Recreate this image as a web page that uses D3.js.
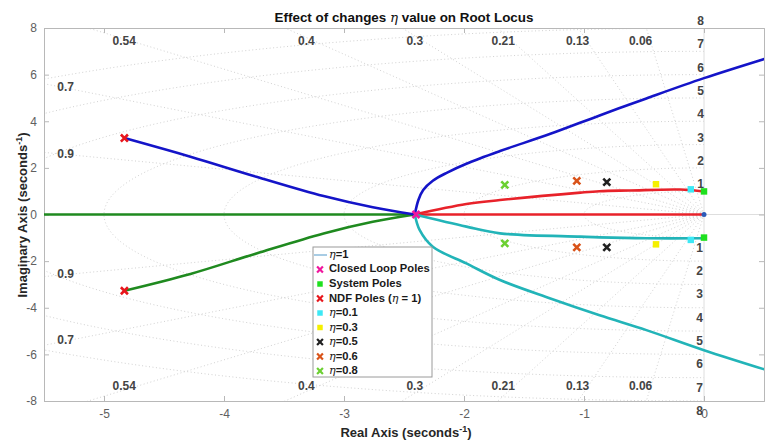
<!DOCTYPE html>
<html>
<head>
<meta charset="utf-8">
<script src="https://cdn.jsdelivr.net/npm/d3@7"></script>
<style>
  body { margin: 0; background: #fff; }
  svg { font-family: "Liberation Sans", Arial, sans-serif; }
</style>
</head>
<body>
<div id="chart"></div>
<script>
// ---- data ----
const xTicks = [-5, -4, -3, -2, -1, 0];
const yTicks = [-8, -6, -4, -2, 0, 2, 4, 6, 8];

// sgrid: damping ratios and natural frequencies
const zetaTop = [0.54, 0.4, 0.3, 0.21, 0.13, 0.06];
const zetaSide = [0.7, 0.9];
const wnValues = [1, 2, 3, 4, 5, 6, 7, 8];

// root locus branches [real, imag]
const blueNdf = [[-4.83, 3.28], [-4.28, 2.48], [-3.73, 1.62], [-3.17, 0.79], [-2.76, 0.31], [-2.41, 0]];
const greenNdf = [[-4.83, -3.27], [-4.28, -2.55], [-3.73, -1.67], [-3.17, -0.81], [-2.76, -0.31], [-2.41, 0]];
const greenReal = [[-5.5, 0], [-2.41, 0]];
const redReal = [[-2.41, 0], [0, 0]];
const blueUpper = [[-2.41, 0], [-2.38, 0.62], [-2.34, 1.05], [-2.26, 1.45], [-2.14, 1.8], [-1.98, 2.18],
  [-1.7, 2.72], [-1.28, 3.46], [-0.87, 4.25], [-0.48, 4.98], [0, 5.85], [0.52, 6.7]];
const cyanLower = [[-2.41, 0], [-2.37, -0.66], [-2.26, -1.38], [-1.98, -2.1], [-1.7, -2.81],
  [-1.28, -3.6], [-0.87, -4.32], [-0.48, -4.96], [0, -5.82], [0.52, -6.67]];
const redUpper = [[-2.41, 0], [-1.98, 0.45], [-1.7, 0.62], [-1.03, 0.94], [-0.87, 1.0],
  [-0.62, 1.03], [-0.2, 1.07], [0, 0.99]];
const cyanInner = [[-2.41, 0], [-1.98, -0.52], [-1.7, -0.81], [-1.03, -0.95], [-0.87, -0.98],
  [-0.48, -1.02], [0, -1.02]];

// pole markers
const closedLoopPoles = [[-2.4, 0]];
const systemPoles = [[0, 0.99], [0, -0.99]];
const ndfPoles = [[-4.83, 3.28], [-4.83, -3.27]];
const eta01 = [[-0.11, 1.08], [-0.11, -1.09]];
const eta03 = [[-0.4, 1.3], [-0.4, -1.28]];
const eta05 = [[-0.81, 1.39], [-0.81, -1.41]];
const eta06 = [[-1.06, 1.44], [-1.06, -1.41]];
const eta08 = [[-1.66, 1.27], [-1.66, -1.24]];
const originPoint = [[0, 0]];

const legendLabels = ["=1", "Closed Loop Poles", "System Poles", "NDF Poles", "=0.1", "=0.3", "=0.5", "=0.6", "=0.8"];

// ---- layout ----
const config = {
  width: 766, height: 445,
  margin: { top: 28, right: 2, bottom: 44, left: 44 }
};
const innerW = config.width - config.margin.left - config.margin.right;
const innerH = config.height - config.margin.top - config.margin.bottom;

const svg = d3.select("#chart").append("svg")
  .attr("width", config.width)
  .attr("height", config.height);

const chart = svg.append("g")
  .attr("transform", `translate(${config.margin.left},${config.margin.top})`);

const x = d3.scaleLinear().domain([-5.5, 0.5]).range([0, innerW]);
const y = d3.scaleLinear().domain([-8, 8]).range([innerH, 0]);

chart.append("clipPath").attr("id", "clip")
  .append("rect").attr("width", innerW).attr("height", innerH);

const gridColor = "#d2d2d2";
const grid = chart.append("g").attr("clip-path", "url(#clip)");

// natural frequency semicircles (left half plane)
const line = d3.line().x(d => x(d[0])).y(d => y(d[1]));
wnValues.forEach(wn => {
  const pts = d3.range(90, 270.5, 1).map(a => [wn * Math.cos(a * Math.PI / 180), wn * Math.sin(a * Math.PI / 180)]);
  grid.append("path").attr("d", line(pts))
    .attr("fill", "none").attr("stroke", gridColor)
    .attr("stroke-width", 1).attr("stroke-dasharray", "1,2.5");
});

// damping lines
zetaTop.concat(zetaSide).forEach(z => {
  const s = Math.sqrt(1 - z * z);
  [1, -1].forEach(sign => {
    grid.append("path").attr("d", line([[0, 0], [-20 * z, sign * 20 * s]]))
      .attr("fill", "none").attr("stroke", gridColor)
      .attr("stroke-width", 1).attr("stroke-dasharray", "1,2.5");
  });
});

// real / imaginary axes of sgrid
grid.append("path").attr("d", line([[-5.5, 0], [0.5, 0]]))
  .attr("stroke", "#dedede").attr("stroke-width", 1);
grid.append("path").attr("d", line([[0, -8], [0, 8]]))
  .attr("stroke", "#dedede").attr("stroke-width", 1);

// axes box
const axisColor = "#b8b8b8";
const xAxis = d3.axisBottom(x).tickValues(xTicks).tickSize(-5).tickPadding(8).tickFormat(d => String(d));
const yAxis = d3.axisLeft(y).tickValues(yTicks).tickSize(-5).tickPadding(7).tickFormat(d => String(d));

chart.append("g").attr("transform", `translate(0,${innerH})`).call(xAxis);
chart.append("g").call(yAxis);
chart.append("g").call(d3.axisTop(x).tickValues(xTicks).tickSize(-5).tickFormat(""));
chart.append("g").attr("transform", `translate(${innerW},0)`)
  .call(d3.axisRight(y).tickValues(yTicks).tickSize(-5).tickFormat(""));

chart.selectAll(".domain").attr("stroke", axisColor);
chart.selectAll(".tick line").attr("stroke", axisColor);
chart.selectAll(".tick text")
  .attr("fill", "#606060").style("font-size", "12px");

// sgrid labels
const labelStyle = sel => sel.attr("fill", "#444").style("font-size", "12px").style("font-weight", "bold");
zetaTop.forEach(z => {
  const s = Math.sqrt(1 - z * z);
  [7.4, -7.4].forEach(yy => {
    chart.append("text")
      .attr("x", x(-Math.abs(yy) * z / s) - 10)
      .attr("y", y(yy))
      .attr("text-anchor", "middle")
      .attr("dominant-baseline", "middle")
      .text(z)
      .call(labelStyle);
  });
});
zetaSide.forEach(z => {
  const s = Math.sqrt(1 - z * z);
  [1, -1].forEach(sign => {
    chart.append("text")
      .attr("x", x(-5.32))
      .attr("y", y(sign * 5.32 * s / z))
      .attr("text-anchor", "middle")
      .attr("dominant-baseline", "middle")
      .text(z)
      .call(labelStyle);
  });
});
wnValues.forEach(wn => {
  chart.append("text")
    .attr("x", x(0)).attr("y", y(wn) - 3)
    .attr("text-anchor", "end")
    .text(wn).call(labelStyle);
  chart.append("text")
    .attr("x", x(0) - 1).attr("y", y(-wn) + 14)
    .attr("text-anchor", "end")
    .text(wn).call(labelStyle);
});

// root locus branches
const curves = chart.append("g").attr("clip-path", "url(#clip)");
const curveLine = d3.line().x(d => x(d[0])).y(d => y(d[1])).curve(d3.curveCatmullRom.alpha(0.5));
[
  [greenReal, "#1f8a1f"],
  [greenNdf, "#1f8a1f"],
  [blueNdf, "#1414c8"],
  [redReal, "#e8222a"],
  [redUpper, "#e8222a"],
  [cyanInner, "#22b4b8"],
  [blueUpper, "#1414c8"],
  [cyanLower, "#22b4b8"]
].forEach(([data, color]) => {
  curves.append("path").datum(data)
    .attr("d", curveLine)
    .attr("fill", "none").attr("stroke", color).attr("stroke-width", 2.6);
});

// markers
const crossPath = d3.symbol(d3.symbolTimes, 34)();
const squarePath = d3.symbol(d3.symbolSquare, 42)();
function drawMarkers(data, color, shape) {
  chart.selectAll(null).data(data).enter().append("path")
    .attr("transform", d => `translate(${x(d[0])},${y(d[1])})`)
    .attr("d", shape === "square" ? squarePath : crossPath)
    .attr("fill", color)
    .attr("stroke", color)
    .attr("stroke-width", shape === "square" ? 0 : 2.6);
}
const markerSets = [
  [closedLoopPoles, "#f0169e", "cross"],
  [systemPoles, "#1ee01e", "square"],
  [ndfPoles, "#e8161c", "cross"],
  [eta01, "#3ce8f5", "square"],
  [eta03, "#f5f000", "square"],
  [eta05, "#202020", "cross"],
  [eta06, "#d95319", "cross"],
  [eta08, "#6cd032", "cross"]
];
markerSets.forEach(([d, c, s]) => drawMarkers(d, c, s));

chart.selectAll(null).data(originPoint).enter().append("circle")
  .attr("cx", d => x(d[0])).attr("cy", d => y(d[1])).attr("r", 2.5)
  .attr("fill", "#2a5ab8");

// legend
const legend = svg.append("g").attr("transform", "translate(313,247)");
legend.append("rect").attr("width", 119).attr("height", 130)
  .attr("fill", "#fff").attr("stroke", "#9a9a9a").attr("stroke-width", 1);
const rowH = 14.5;
legendLabels.forEach((label, i) => {
  const ry = 8 + i * rowH;
  const row = legend.append("g").attr("transform", `translate(0,${ry})`);
  if (i === 0) {
    row.append("line").attr("x1", 1).attr("x2", 14).attr("y1", 0).attr("y2", 0)
      .attr("stroke", "#a8cce4").attr("stroke-width", 2);
  } else {
    const [, color, shape] = markerSets[i - 1];
    row.append("path").attr("transform", "translate(7,0)")
      .attr("d", shape === "square" ? d3.symbol(d3.symbolSquare, 30)() : d3.symbol(d3.symbolTimes, 24)())
      .attr("fill", color).attr("stroke", color)
      .attr("stroke-width", shape === "square" ? 0 : 2.2);
  }
  const t = row.append("text").attr("x", 16).attr("y", 0)
    .attr("dominant-baseline", "middle")
    .style("font-size", "11.2px").style("font-weight", "bold").attr("fill", "#1a1a1a");
  if (label.startsWith("=")) {
    t.append("tspan").text("η").style("font-style", "italic").style("font-weight", "normal")
      .style("font-family", "'DejaVu Serif', serif");
    t.append("tspan").text(label);
  } else if (label === "NDF Poles") {
    t.append("tspan").text("NDF Poles (");
    t.append("tspan").text("η").style("font-style", "italic").style("font-weight", "normal")
      .style("font-family", "'DejaVu Serif', serif");
    t.append("tspan").text(" = 1)");
  } else {
    t.text(label);
  }
});

// title and axis labels
const title = svg.append("text")
  .attr("x", 404).attr("y", 22)
  .attr("text-anchor", "middle")
  .style("font-size", "13.4px").style("font-weight", "bold").attr("fill", "#111");
title.append("tspan").text("Effect of changes ");
title.append("tspan").text("η").style("font-style", "italic").style("font-weight", "normal")
  .style("font-family", "'DejaVu Serif', serif");
title.append("tspan").text(" value on Root Locus");

const xLabel = svg.append("text")
  .attr("x", 406).attr("y", 437)
  .attr("text-anchor", "middle")
  .style("font-size", "13px").style("font-weight", "bold").attr("fill", "#262626");
xLabel.append("tspan").text("Real Axis (seconds");
xLabel.append("tspan").text("-1").attr("dy", -5).style("font-size", "9px");
xLabel.append("tspan").text(")").attr("dy", 5);

const yLabel = svg.append("text")
  .attr("transform", "translate(27,215) rotate(-90)")
  .attr("text-anchor", "middle")
  .style("font-size", "13px").style("font-weight", "bold").attr("fill", "#262626");
yLabel.append("tspan").text("Imaginary Axis (seconds");
yLabel.append("tspan").text("-1").attr("dy", -5).style("font-size", "9px");
yLabel.append("tspan").text(")").attr("dy", 5);
</script>
</body>
</html>
